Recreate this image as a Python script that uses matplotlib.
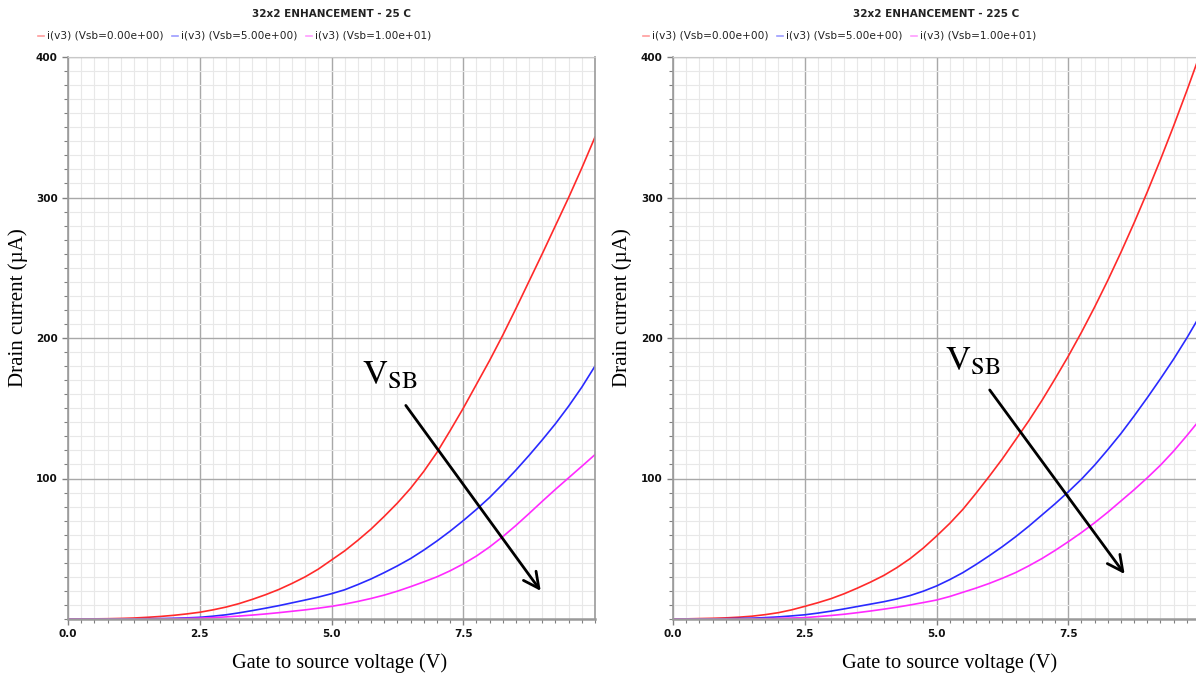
import numpy as np
import matplotlib
matplotlib.use("Agg")
import matplotlib.pyplot as plt
from matplotlib.ticker import MultipleLocator, FixedLocator

# ---------------- data ----------------
vgs = [0.0, 0.25, 0.5, 0.75, 1.0, 1.25, 1.5, 1.75, 2.0, 2.25, 2.5,
       2.75, 3.0, 3.25, 3.5, 3.75, 4.0, 4.25, 4.5, 4.75, 5.0,
       5.25, 5.5, 5.75, 6.0, 6.25, 6.5, 6.75, 7.0, 7.25, 7.5,
       7.75, 8.0, 8.25, 8.5, 8.75, 9.0, 9.25, 9.5, 9.75, 10.0]

# 25 C panel (drain current, uA)
id25_vsb0 = [0, 0, 0.1, 0.2, 0.4, 0.7, 1.2, 1.8, 2.6, 3.6, 4.8,
             6.5, 8.5, 11, 14, 17.3, 21, 25.3, 30, 35.5, 42,
             48.5, 56, 64, 73, 82.5, 93, 105, 118.5, 134, 150,
             167, 184, 202, 221, 240.5, 260, 280, 300, 321, 343]
id25_vsb5 = [0, 0, 0, 0, 0, 0.1, 0.2, 0.3, 0.5, 0.8, 1.2,
             2, 3, 4.4, 6, 7.7, 9.5, 11.5, 13.5, 15.6, 18,
             20.8, 24.5, 28.5, 33, 37.8, 43, 49, 55.5, 62.5, 70,
             78, 86.5, 96, 106, 116.5, 127.5, 139, 151.5, 165, 180]
id25_vsb10 = [0, 0, 0, 0, 0, 0, 0, 0, 0.2, 0.4, 0.6,
              1, 1.5, 2.1, 2.8, 3.6, 4.5, 5.5, 6.5, 7.7, 9,
              10.6, 12.5, 14.6, 17, 19.8, 23, 26.4, 30, 34.3, 39.2,
              44.8, 51.3, 58.6, 66.6, 75.1, 83.8, 92.3, 100.5, 108.7, 117]

# 225 C panel
id225_vsb0 = [0, 0.1, 0.3, 0.5, 0.8, 1.3, 2, 3.1, 4.5, 6.5, 9,
              11.6, 14.5, 18, 22, 26.3, 31, 36.6, 43, 50.5, 59,
              68, 78, 89.5, 101.5, 114, 127.5, 141, 155.5, 171, 187,
              204, 222, 241, 261, 282, 304, 327, 351, 376, 402]
id225_vsb5 = [0, 0, 0, 0.1, 0.2, 0.4, 0.6, 1, 1.5, 2.2, 3,
              4.2, 5.6, 7.2, 8.9, 10.6, 12.3, 14.3, 16.7, 19.8, 23.5,
              28, 33, 38.8, 45, 51.5, 58.5, 66, 74, 82, 90.5,
              99.5, 109.5, 120.5, 132, 144.5, 157.5, 171, 185, 200, 216]
id225_vsb10 = [0, 0, 0, 0, 0, 0, 0.2, 0.3, 0.5, 0.7, 1,
               1.7, 2.5, 3.4, 4.5, 5.7, 7, 8.4, 10, 11.7, 13.5,
               16, 19, 22, 25.3, 29, 33, 37.8, 43, 48.8, 55,
               61.5, 68.5, 76, 84, 92, 100.5, 109.5, 119.5, 130.5, 142]

titles = ["32x2 ENHANCEMENT - 25 C", "32x2 ENHANCEMENT - 225 C"]
legend_labels = ["i(v3) (Vsb=0.00e+00)", "i(v3) (Vsb=5.00e+00)", "i(v3) (Vsb=1.00e+01)"]
xticks = [0.0, 2.5, 5.0, 7.5]
xtick_labels = ["0.0", "2.5", "5.0", "7.5"]
yticks = [100, 200, 300, 400]
ytick_labels = ["100", "200", "300", "400"]
xlabel = "Gate to source voltage (V)"
ylabel = "Drain current (\u00b5A)"
arrow_label = r"$\mathrm{V}_{\mathrm{SB}}$"

# arrow (start, end) and label anchor in data coords for each panel
arrows = [((6.41, 152), (8.97, 20)), ((6.01, 163), (8.57, 32))]
label_pos = [(5.57, 167), (5.16, 177)]

line_colors = ["#ff2a2a", "#2a2aff", "#ff2aff"]
legend_colors = ["#ff9c9c", "#9c9cff", "#ff9cff"]

panels = [(id25_vsb0, id25_vsb5, id25_vsb10), (id225_vsb0, id225_vsb5, id225_vsb10)]

# ---------------- figure ----------------
W, H = 1196, 677
fig = plt.figure(figsize=(W / 100, H / 100), dpi=100)
plt.rcParams['mathtext.fontset'] = 'stix'

ax_left_px = [68, 673]
ax_top_px = 57
ax_bot_px = 619
ax_w_px = 527

title_cx = [331, 936]
legend_x0 = [38, 643]
xlabel_cx = [340, 950]
ylabel_cx = [18, 622]

for i, series in enumerate(panels):
    l = ax_left_px[i] / W
    b = 1 - ax_bot_px / H
    w = ax_w_px / W
    h = (ax_bot_px - ax_top_px) / H
    ax = fig.add_axes([l, b, w, h])
    ax.set_xlim(0, 10)
    ax.set_ylim(0, 400)

    ax.xaxis.set_major_locator(FixedLocator(xticks))
    ax.set_xticklabels(xtick_labels)
    ax.xaxis.set_minor_locator(MultipleLocator(0.25))
    ax.yaxis.set_major_locator(FixedLocator(yticks))
    ax.set_yticklabels(ytick_labels)
    ax.yaxis.set_minor_locator(MultipleLocator(10))

    ax.grid(which='major', color='#a8a8a8', lw=1.0)
    ax.grid(which='minor', color='#e8e8e8', lw=0.8)
    ax.set_axisbelow(True)

    ax.tick_params(which='both', direction='out', colors='#808080',
                   labelcolor='#111111', labelsize=7.5)
    ax.tick_params(which='major', length=4, width=1)
    ax.tick_params(which='minor', length=3, width=0.8)
    for lab in ax.get_xticklabels() + ax.get_yticklabels():
        lab.set_fontweight('bold')

    for s in ['left', 'bottom', 'right', 'top']:
        ax.spines[s].set_color('#9a9a9a')
    ax.spines['bottom'].set_linewidth(1.8)
    ax.spines['left'].set_linewidth(1.2)
    ax.spines['right'].set_linewidth(1.2)
    ax.spines['top'].set_color('#c8c8c8')

    for ys, c in zip(series, line_colors):
        ax.plot(vgs, ys, color=c, lw=1.2, solid_joinstyle='round')

    (sx, sy), (ex, ey) = arrows[i]
    ax.annotate('', xy=(ex, ey), xytext=(sx, sy),
                arrowprops=dict(arrowstyle='->', lw=2, color='black',
                                mutation_scale=28, shrinkA=0, shrinkB=0))
    ax.text(label_pos[i][0], label_pos[i][1], arrow_label, fontsize=25,
            ha='left', va='baseline', color='black')

    # axis labels in figure coordinates
    fig.text(xlabel_cx[i] / W, 1 - 663 / H, xlabel, ha='center', va='center',
             fontsize=14.6, family='Liberation Serif')
    fig.text(ylabel_cx[i] / W, 1 - 308 / H, ylabel, ha='center', va='center',
             rotation=90, fontsize=15, family='Liberation Serif')

    # title
    fig.text(title_cx[i] / W, 1 - 14 / H, titles[i], ha='center', va='center',
             fontsize=7.5, fontweight='bold', color='#222222')

    # legend line
    x = legend_x0[i]
    for lab, c in zip(legend_labels, legend_colors):
        fig.add_artist(plt.Line2D([x / W, (x + 6) / W], [1 - 36 / H, 1 - 36 / H],
                                  color=c, lw=1.2, transform=fig.transFigure))
        fig.text((x + 9) / W, 1 - 36 / H, lab, ha='left', va='center',
                 fontsize=7.6, color='#222222')
        x += 134

fig.savefig("out.png", dpi=100)
